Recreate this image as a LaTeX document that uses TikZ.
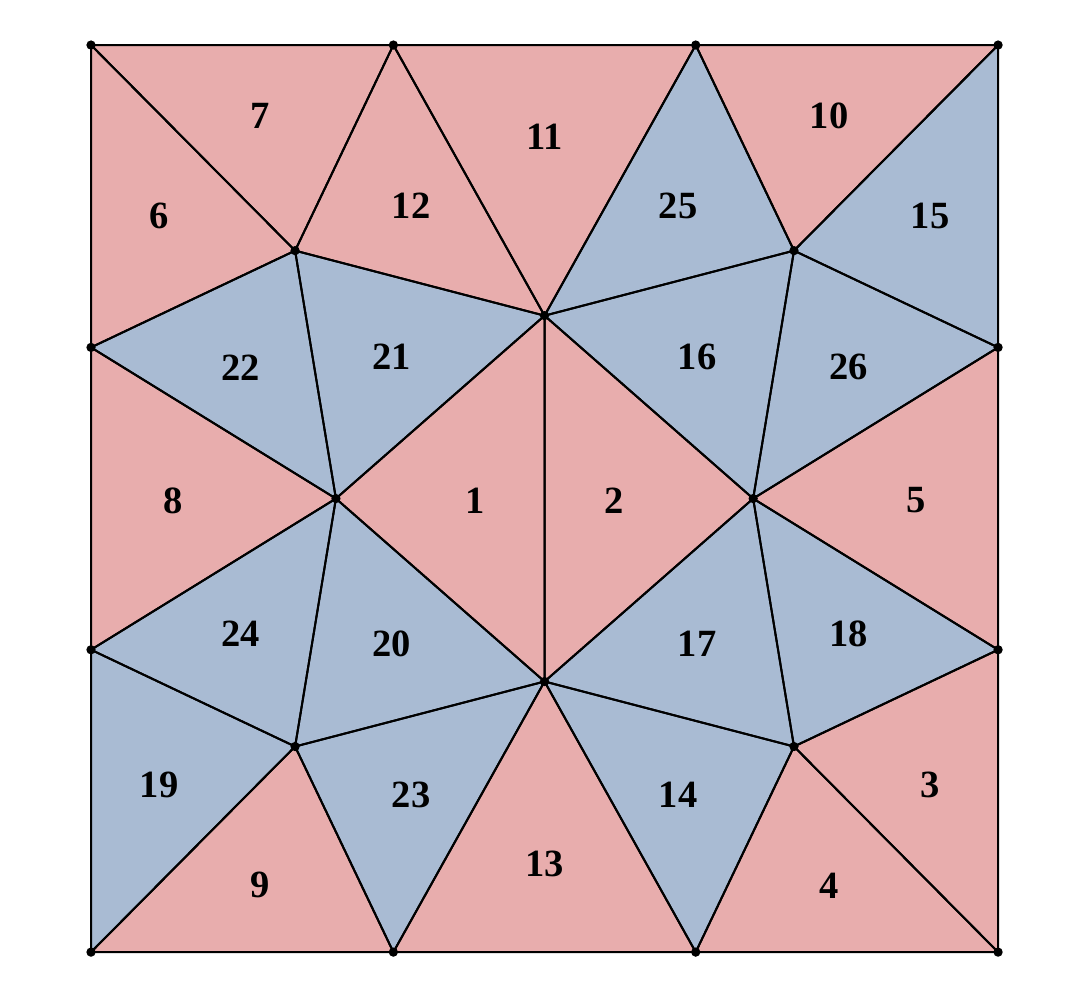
\documentclass[tikz,border=0pt]{standalone}
\usepackage{fontspec}
\setmainfont{Liberation Serif}
\usetikzlibrary{calc}
\definecolor{triRed}{RGB}{232,173,173}
\definecolor{triBlue}{RGB}{169,187,211}
\begin{document}
\begin{tikzpicture}[x=4cm,y=4cm,
    numlabel/.style={font=\fontsize{14.5}{17}\selectfont\bfseries},
    triedge/.style={line width=0.75pt,line join=round}]
    \useasboundingbox (-0.301,-0.155) rectangle (3.304,3.149);
    % --- vertices on the border ---
    \foreach \i in {0,1,2,3} {
      \coordinate (g\i0) at (\i,0);
      \coordinate (g\i3) at (\i,3);
    }
    \coordinate (g01) at (0,1);
    \coordinate (g02) at (0,2);
    \coordinate (g31) at (3,1);
    \coordinate (g32) at (3,2);
    % --- inner vertices ---
    \coordinate (A) at (0.675,2.32);
    \coordinate (B) at (1.5,2.105);
    \coordinate (C) at (2.325,2.32);
    \coordinate (D) at (0.81,1.5);
    \coordinate (E) at (2.19,1.5);
    \coordinate (F) at (1.5,0.895);
    \coordinate (G) at (0.675,0.68);
    \coordinate (H) at (2.325,0.68);
    % --- triangles: corners / colour / number ---
    \def\trilist{D/B/F/triRed/1, B/E/F/triRed/2, H/g31/g30/triRed/3,
      H/g30/g20/triRed/4, E/g32/g31/triRed/5, g03/A/g02/triRed/6,
      g03/g13/A/triRed/7, g02/D/g01/triRed/8, G/g10/g00/triRed/9,
      g23/g33/C/triRed/10, g13/g23/B/triRed/11, g13/B/A/triRed/12,
      F/g20/g10/triRed/13, F/H/g20/triBlue/14, g33/g32/C/triBlue/15,
      B/C/E/triBlue/16, F/E/H/triBlue/17, E/g31/H/triBlue/18,
      g01/G/g00/triBlue/19, D/F/G/triBlue/20, A/B/D/triBlue/21,
      g02/A/D/triBlue/22, G/F/g10/triBlue/23, g01/D/G/triBlue/24,
      g23/C/B/triBlue/25, C/g32/E/triBlue/26}
    \foreach \a/\b/\c/\col/\n in \trilist
      \fill[\col] (\a) -- (\b) -- (\c) -- cycle;
    \foreach \a/\b/\c/\col/\n in \trilist {
      \draw[triedge] (\a) -- (\b) -- (\c) -- cycle;
      \node[numlabel] (t\n) at ($1/3*(\a)+1/3*(\b)+1/3*(\c)+(0,-0.006)$) {\n};
    }
    % vertex dots
    \foreach \v in {g00,g10,g20,g30,g03,g13,g23,g33,g01,g02,g31,g32,
                    A,B,C,D,E,F,G,H}
      \fill (\v) circle[radius=1.75pt];
  \end{tikzpicture}
\end{document}
